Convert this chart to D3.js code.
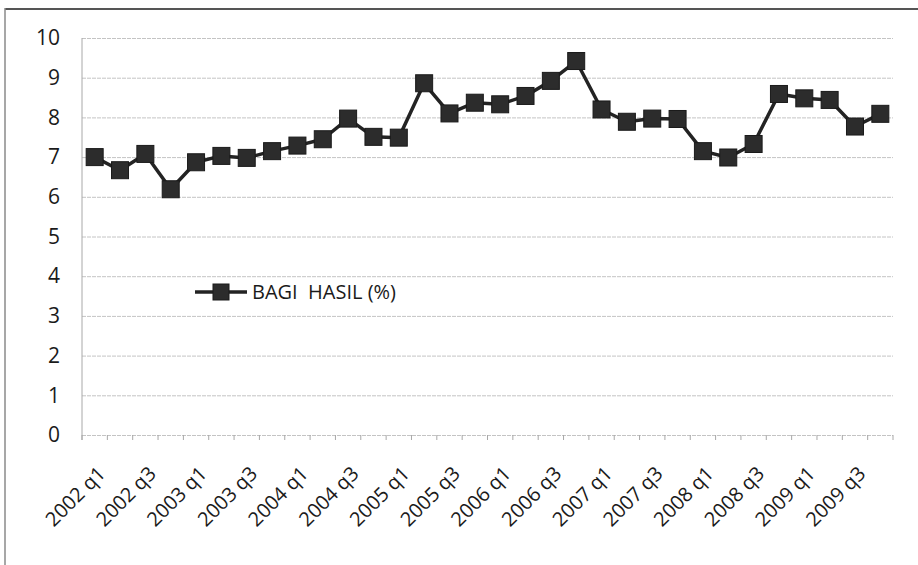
<!DOCTYPE html>
<html>
<head>
<meta charset="utf-8">
<script src="https://cdn.jsdelivr.net/npm/d3@7"></script>
<style>
  html, body { margin: 0; padding: 0; background: #ffffff; }
  svg { display: block; }
  text { font-family: "Open Sans", "Noto Sans", sans-serif; fill: #1a1a1a; font-weight: 400; }
</style>
</head>
<body>
<svg id="chart" width="918" height="565"></svg>
<script>
// Quarterly series
const categories = [
  "2002 q1", "2002 q2", "2002 q3", "2002 q4",
  "2003 q1", "2003 q2", "2003 q3", "2003 q4",
  "2004 q1", "2004 q2", "2004 q3", "2004 q4",
  "2005 q1", "2005 q2", "2005 q3", "2005 q4",
  "2006 q1", "2006 q2", "2006 q3", "2006 q4",
  "2007 q1", "2007 q2", "2007 q3", "2007 q4",
  "2008 q1", "2008 q2", "2008 q3", "2008 q4",
  "2009 q1", "2009 q2", "2009 q3", "2009 q4"
];
const bagiHasil = [
  7.00, 6.67, 7.08, 6.19,
  6.87, 7.03, 6.98, 7.15,
  7.29, 7.45, 7.97, 7.51,
  7.49, 8.86, 8.10, 8.37,
  8.33, 8.54, 8.92, 9.42,
  8.20, 7.89, 7.97, 7.96,
  7.15, 6.99, 7.33, 8.59,
  8.48, 8.44, 7.77, 8.09
];
const xTickLabels = [
  "2002 q1", "2002 q3", "2003 q1", "2003 q3", "2004 q1", "2004 q3",
  "2005 q1", "2005 q3", "2006 q1", "2006 q3", "2007 q1", "2007 q3",
  "2008 q1", "2008 q3", "2009 q1", "2009 q3"
];
const yTicks = [0, 1, 2, 3, 4, 5, 6, 7, 8, 9, 10];
const seriesName = "BAGI\u00a0 HASIL (%)";

const svg = d3.select("#chart");
const plot = { left: 82, right: 893, top: 38, bottom: 435 };

const x = d3.scaleBand().domain(categories).range([plot.left, plot.right]);
const y = d3.scaleLinear().domain([0, 10]).range([plot.bottom, plot.top]);

// Outer frame (top and left edges)
svg.append("line").attr("x1", 5).attr("x2", 918).attr("y1", 9).attr("y2", 9)
  .attr("stroke", "#555").attr("stroke-width", 2);
svg.append("line").attr("x1", 5).attr("x2", 5).attr("y1", 8).attr("y2", 565)
  .attr("stroke", "#8a8a8a").attr("stroke-width", 1.5);

// Horizontal gridlines
svg.append("g")
  .attr("transform", `translate(${plot.left},0)`)
  .call(d3.axisLeft(y).tickValues(yTicks).tickSize(-(plot.right - plot.left)).tickFormat(""))
  .call(g => g.select(".domain").remove())
  .call(g => g.selectAll(".tick line").attr("stroke", "#c4c4c4").attr("stroke-width", 1)
    .attr("stroke-dasharray", "4,1"));

// Y axis labels
svg.append("g")
  .attr("transform", `translate(${plot.left},0)`)
  .call(d3.axisLeft(y).tickValues(yTicks).tickSize(0).tickPadding(22))
  .call(g => g.select(".domain").remove())
  .call(g => g.selectAll(".tick text").style("font-size", "21px").attr("fill", "#1a1a1a"));

// Y axis line
svg.append("line")
  .attr("x1", plot.left).attr("x2", plot.left)
  .attr("y1", y(10)).attr("y2", y(0) + 5)
  .attr("stroke", "#a8a8a8").attr("stroke-width", 1);

// X axis: tick marks between categories
const boundaries = categories.map(c => x(c)).concat([x.range()[1]]);
svg.append("g").selectAll("line").data(boundaries).join("line")
  .attr("x1", d => d).attr("x2", d => d)
  .attr("y1", y(0)).attr("y2", y(0) + 5)
  .attr("stroke", "#a8a8a8").attr("stroke-width", 1);

// X axis labels, rotated
const xAxis = svg.append("g")
  .attr("transform", `translate(0,${y(0)})`)
  .call(d3.axisBottom(x).tickValues(xTickLabels).tickSize(0).tickFormat(d => d))
  .call(g => g.select(".domain").remove());
xAxis.selectAll(".tick text")
  .style("font-size", "20px")
  .attr("fill", "#1a1a1a")
  .attr("text-anchor", "end")
  .attr("x", 0).attr("y", 0).attr("dy", "0.35em")
  .attr("transform", "translate(7,35) rotate(-45)");

// Series line
const line = d3.line()
  .x((d, i) => x(categories[i]) + x.bandwidth() / 2)
  .y(d => y(d));
svg.append("path")
  .datum(bagiHasil)
  .attr("fill", "none")
  .attr("stroke", "#232323")
  .attr("stroke-width", 3.5)
  .attr("stroke-linejoin", "round")
  .attr("d", line);

// Square markers
const m = 17;
svg.append("g").selectAll("rect").data(bagiHasil).join("rect")
  .attr("x", (d, i) => x(categories[i]) + x.bandwidth() / 2 - m / 2)
  .attr("y", d => y(d) - m / 2)
  .attr("width", m).attr("height", m)
  .attr("fill", "#2c2c2c")
  .attr("stroke", "#1a1a1a").attr("stroke-width", 1);

// Legend
const legend = svg.append("g").attr("transform", "translate(195,292)");
legend.append("line").attr("x1", 0).attr("x2", 52).attr("y1", 0).attr("y2", 0)
  .attr("stroke", "#232323").attr("stroke-width", 3.5);
legend.append("rect").attr("x", 26 - 8).attr("y", -8).attr("width", 16).attr("height", 16)
  .attr("fill", "#2c2c2c").attr("stroke", "#1a1a1a").attr("stroke-width", 1);
legend.append("text").attr("x", 57).attr("y", 0).attr("dy", "0.35em")
  .style("font-size", "20px").text(seriesName);
</script>
</body>
</html>
